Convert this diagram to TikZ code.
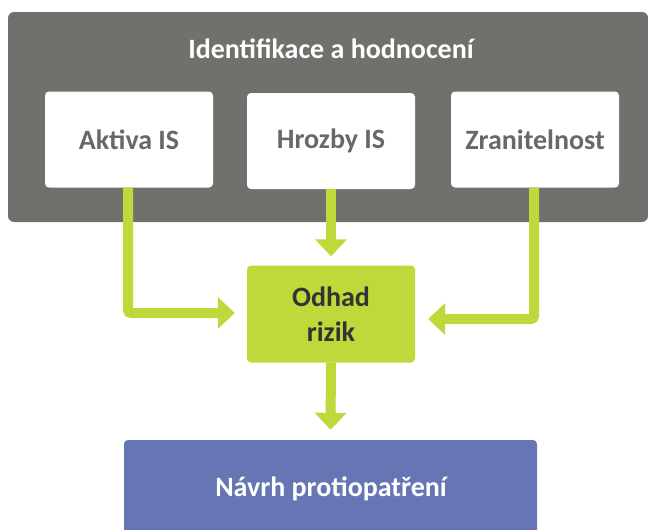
\documentclass[tikz,border=0pt]{standalone}
\usepackage{fontspec}
\setmainfont{Carlito}
\usetikzlibrary{arrows.meta}
\definecolor{grayfill}{HTML}{72706D}
\definecolor{greenfill}{HTML}{C0D83A}
\definecolor{bluefill}{HTML}{6676B4}
\definecolor{boxtext}{HTML}{686868}
\definecolor{darktext}{HTML}{333333}
\tikzset{
  whitebox/.style={fill=white, rounded corners=4pt, minimum width=168pt, minimum height=96pt, inner sep=0pt, text=boxtext, font=\bfseries\fontsize{28}{32}\selectfont},
  conn/.style={draw=greenfill, line width=10pt, -{Triangle[width=31pt,length=17pt]}, rounded corners=3pt},
}
\begin{document}
\begin{tikzpicture}[x=1pt,y=-1pt]
\useasboundingbox (0,0) rectangle (648,530);
\clip (0,0) rectangle (648,530);
\node[fill=grayfill, rounded corners=6pt, minimum width=640pt, minimum height=210pt, inner sep=0pt] (grp) at (328,117) {};
\node[text=white, font=\bfseries\fontsize{28}{32}\selectfont] (title) at (331,49) {Identifikace a hodnocení};
\node[whitebox] (akt) at (129,139.5) {Aktiva IS};
\node[whitebox] (hro) at (331,141) {Hrozby IS};
\node[whitebox] (zra) at (535,139.5) {Zranitelnost};
\node[fill=greenfill, rounded corners=4pt, minimum width=168pt, minimum height=97pt, inner sep=0pt, text=darktext, align=center, font=\bfseries\fontsize{28}{35}\selectfont] (odh) at (331,314) {Odhad\\rizik};
\node[fill=bluefill, rounded corners=4pt, minimum width=413pt, minimum height=120pt, inner sep=0pt] (nav) at (330.5,500) {};
\node[text=white, font=\bfseries\fontsize{28}{32}\selectfont] (navt) at (331,489) {Návrh protiopatření};
\draw[conn] (akt.south -| 128,0) |- ([xshift=-12pt]odh.west |- 0,313);
\draw[conn] (hro.south) -- ([yshift=9pt]odh.north);
\draw[conn] (zra.south -| 534,0) |- ([xshift=13pt]odh.east |- 0,319);
\draw[conn] (odh.south) -- ([yshift=10pt]nav.north);
\end{tikzpicture}
\end{document}
